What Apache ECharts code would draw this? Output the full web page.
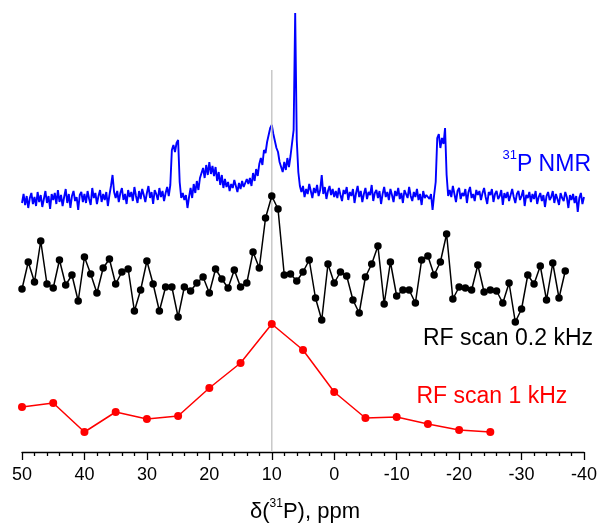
<!DOCTYPE html>
<html>
<head>
<meta charset="utf-8">
<script src="https://cdn.jsdelivr.net/npm/echarts@6/dist/echarts.min.js"></script>
<style>
  html, body { margin: 0; padding: 0; background: #ffffff; }
  #chart { width: 600px; height: 525px; }
</style>
</head>
<body>
<div id="chart"></div>
<script>
// 31P NMR spectrum, one sample every 0.25 ppm from 50 ppm down to -40 ppm
const nmrStart = 50;
const nmrStep = 0.25;
const nmrIntensity = [
  -3, 6, -5, 4, -8, 2, 7, -4, 3, -6, 8, -2, 5, -7, 1, 9, -3, 4, -9, 6,
  0, 7, -4, 10, -2, 5, -6, 3, 11, -3, 6, -8, 4, 9, -1, 3, -10, 5, 8, -2,
  6, -3, 9, 1, -5, 12, 2, 7, -4, 4, 10, -2, 6, 0, 8, -6, 5,
  14, 25, 8,
  2, 9, -2, 7, 12, 0, 6, -4, 10, 3, 8, -1, 13, 4, -3, 9, 1, 11, 5, -2,
  7, 14, 2, 8, -4, 10, 6, 0, 12, 3, 9, -1, 7, 13, 4,
  15, 50, 55, 48, 57, 60, 18,
  2, 7, 0, 5, -8, 3,
  12, 2, 16, 7, 19, 10, 22,
  20, 32, 22, 35, 25, 38, 26, 34,
  24, 33, 19, 28, 15, 25, 12, 21,
  13, 18, 9, 16, 12, 20, 14, 8, 17, 11, 19, 13, 15, 21, 16,
  22, 14, 27, 19, 31, 24, 36,
  42, 35, 50, 47, 58, 60,
  72, 75, 66, 64, 52, 48, 38, 40, 28, 38, 30, 42, 33, 44, 46, 70, 187, 60, 28, 14,
  8, 14, 3, 11, 6, 16, 9, 2, 12, 7, 15, 4, 10, 25, 6, 13, 1, 9, 14, 5, 11, 3,
  9, 2, 12, 5, -1, 10, 6, 13, 0, 8,
  4, 11, -3, 7, 14, 3, 9, -2, 6, 12,
  1, 8, 5, 15, -1, 7, 10, 2, 9, -4,
  6, 13, 3, 8, 0, 11, 5, -2, 9, 4,
  12, 1, 7, -3, 10, 6, 2, 13, 4, -1,
  8, 3, 11, 0, 6, -5, 9, 2, 5, 4,
  1, 6, -10, 5,
  18, 62, 66, 52, 62, 56, 72, 25, 4,
  10, 3, 14, 6, -2, 9, 12, 1, 7, 4,
  11, -3, 8, 13, 2, 6, -1, 10, 5, 9,
  0, 7, 12, 3, -4, 8, 5, 11, -2, 6,
  9, 1, 4, 10, -5, 7, 2, 8, -1, 5,
  11, 3, -3, 6, 9, 0, 4, 10, -6, 5,
  2, 8, -2, 6, 1, 9, -4, 3, 7, -1,
  5, -7, 4, 8, 0, 3, 9, -3, 6, 1,
  -5, 7, 2, -1, 8, 3, -8, 5, 0, 6,
  -3, 4, -12, 2, 7, -4, 3
];

// RF scan at 0.2 kHz, one point per ppm from 50 ppm down to -37 ppm
const rf02Start = 50;
const rf02Step = 1;
const rf02Signal = [
  33, 60, 40, 81, 38, 34, 62, 37, 47, 21,
  65, 48, 29, 54, 63, 38, 50, 53, 11, 32,
  61, 38, 11, 35, 35, 5, 35, 31, 39, 45,
  29, 53, 43, 34, 52, 35, 39, 70, 54, 104,
  126, 113, 47, 48, 41, 50, 62, 24, 2, 58,
  39, 50, 46, 22, 9, 45, 58, 76, 18, 60,
  26, 32, 32, 19, 62, 66, 47, 60, 88, 23,
  35, 34, 32, 57, 30, 32, 31, 19, 39, 0,
  13, 47, 38, 56, 22, 59, 24, 51
];

// RF scan at 1 kHz, every 5 ppm
const rf1Shift = [50, 45, 40, 35, 30, 25, 20, 15, 10, 5, 0, -5, -10, -15, -20, -25];
const rf1Signal = [29, 33, 4, 24, 17, 20, 48, 73, 112, 86, 44, 18, 19, 12, 6, 4];

// x axis ticks (ppm)
const axisMin = -40;
const axisMax = 50;
const axisStep = 10;

// vertical stacking of the three traces on the shared intensity scale
const traceOffset = { nmr: 252, rf02: 130, rf1: 16 };
const intensityMax = 440;

// reference shift marked by the grey guide
const refShift = 10;
const refTop = 382;

const FONT = '"Liberation Sans", Arial, Helvetica, sans-serif';

const nmrData = nmrIntensity.map((v, i) => [nmrStart - i * nmrStep, traceOffset.nmr + v]);
const rf02Data = rf02Signal.map((v, i) => [rf02Start - i * rf02Step, traceOffset.rf02 + v]);
const rf1Data = rf1Signal.map((v, i) => [rf1Shift[i], traceOffset.rf1 + v]);

const chart = echarts.init(document.getElementById('chart'), null, { renderer: 'canvas' });

chart.setOption({
  animation: false,
  backgroundColor: '#ffffff',
  grid: { left: 22, right: 14.5, top: 12, bottom: 73, containLabel: false },
  xAxis: {
    type: 'value',
    min: axisMin,
    max: axisMax,
    interval: axisStep,
    inverse: true,
    axisLine: { show: true, onZero: false, lineStyle: { color: '#000', width: 1.3 } },
    axisTick: { show: true, length: 8, lineStyle: { color: '#000', width: 1.3 } },
    minorTick: { show: true, splitNumber: 5, length: 4, lineStyle: { color: '#000', width: 1.3 } },
    splitLine: { show: false },
    minorSplitLine: { show: false },
    axisLabel: { color: '#000', fontSize: 18, fontFamily: FONT, margin: 14 }
  },
  yAxis: {
    type: 'value',
    min: 0,
    max: intensityMax,
    show: false
  },
  graphic: [
    {
      type: 'text',
      x: 305, y: 512,
      style: {
        text: '{a|δ(}{s|31}{a|P), ppm}',
        align: 'center',
        verticalAlign: 'middle',
        fill: '#000',
        rich: {
          a: { fontSize: 22, fontFamily: FONT, lineHeight: 29, fill: '#000' },
          s: { fontSize: 12, fontFamily: FONT, lineHeight: 12, verticalAlign: 'top', fill: '#000' }
        }
      }
    },
    {
      type: 'text',
      x: 591, y: 164.7,
      style: {
        text: '{s|31}{a|P NMR}',
        align: 'right',
        verticalAlign: 'middle',
        fill: '#0000ff',
        rich: {
          a: { fontSize: 23, fontFamily: FONT, lineHeight: 32, fill: '#0000ff' },
          s: { fontSize: 13, fontFamily: FONT, lineHeight: 13, verticalAlign: 'top', fill: '#0000ff' }
        }
      }
    },
    {
      type: 'text',
      x: 593, y: 338.7,
      style: {
        text: 'RF scan 0.2 kHz',
        align: 'right',
        verticalAlign: 'middle',
        fill: '#000',
        font: '23px ' + FONT
      }
    },
    {
      type: 'text',
      x: 416.5, y: 396.5,
      style: {
        text: 'RF scan 1 kHz',
        align: 'left',
        verticalAlign: 'middle',
        fill: '#ff0000',
        font: '23px ' + FONT
      }
    }
  ],
  series: [
    {
      name: '31P NMR',
      type: 'line',
      data: nmrData,
      showSymbol: false,
      sampling: null,
      lineStyle: { color: '#0000ff', width: 1.9 },
      silent: true,
      z: 2
    },
    {
      name: 'reference',
      type: 'line',
      data: [[refShift, 0], [refShift, refTop]],
      showSymbol: false,
      lineStyle: { color: '#c8c8c8', width: 1.5 },
      silent: true,
      z: 3
    },
    {
      name: 'RF scan 0.2 kHz',
      type: 'line',
      data: rf02Data,
      symbol: 'circle',
      symbolSize: 7.5,
      showAllSymbol: true,
      itemStyle: { color: '#000' },
      lineStyle: { color: '#000', width: 1.5 },
      silent: true,
      z: 4
    },
    {
      name: 'RF scan 1 kHz',
      type: 'line',
      data: rf1Data,
      symbol: 'circle',
      symbolSize: 8,
      showAllSymbol: true,
      itemStyle: { color: '#ff0000' },
      lineStyle: { color: '#ff0000', width: 1.5 },
      silent: true,
      z: 5
    }
  ]
});
</script>
</body>
</html>
